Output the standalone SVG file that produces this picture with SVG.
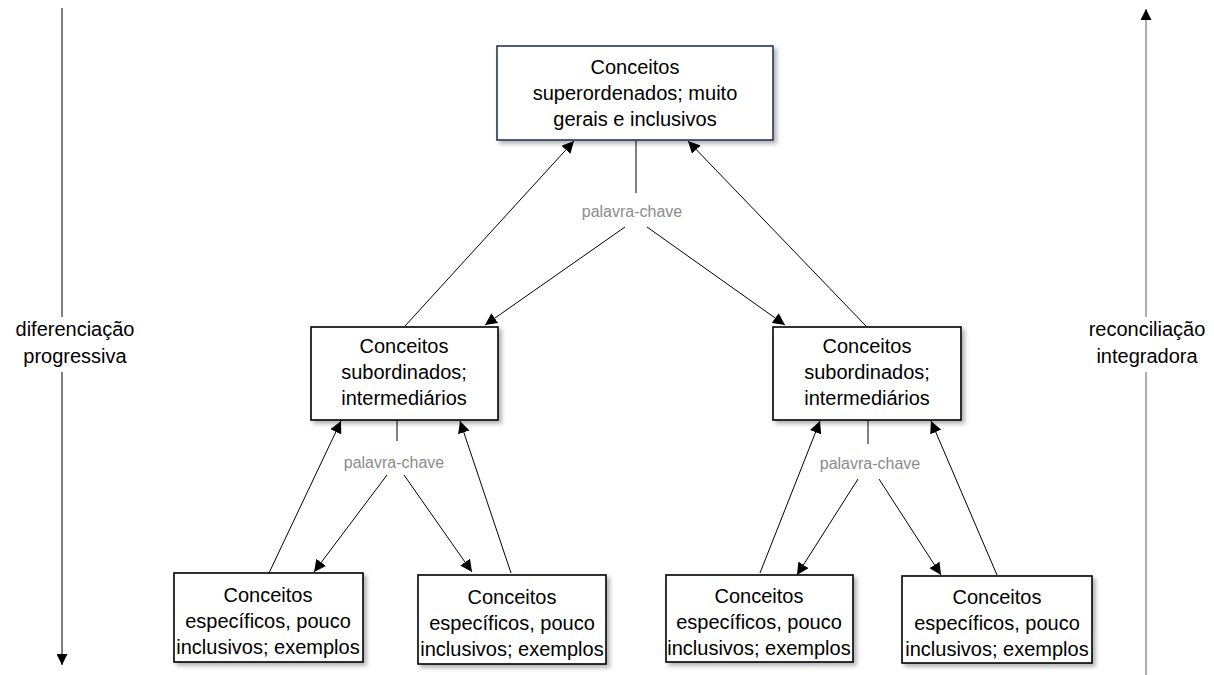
<svg xmlns="http://www.w3.org/2000/svg" width="1214" height="675" viewBox="0 0 1214 675">
<style>
.box{fill:#fff;stroke:#000;stroke-width:1.6;filter:url(#sh)}
.top{stroke:#253858}
.t{font-family:"Liberation Sans",Arial,sans-serif;font-size:20px;fill:#000;text-anchor:middle}
.kw{font-family:"Liberation Sans",Arial,sans-serif;font-size:16px;fill:#8c8c8c;text-anchor:middle}
.c{stroke:#000;stroke-width:1;fill:none}
.a{marker-end:url(#ah)}
.g{stroke:#808080;stroke-width:1.3;fill:none}
</style>
<defs>
<filter id="sh" x="-10%" y="-10%" width="125%" height="130%">
<feDropShadow dx="3" dy="3" stdDeviation="2" flood-color="#000" flood-opacity="0.3"/>
</filter>
<marker id="ah" viewBox="0 0 10 10" refX="10" refY="5" markerWidth="12" markerHeight="12" markerUnits="userSpaceOnUse" orient="auto">
<path d="M0,0 L10,5 L0,10 Z" fill="#000"/>
</marker>
<marker id="ahg" viewBox="0 0 10 10" refX="10" refY="5" markerWidth="11" markerHeight="11" markerUnits="userSpaceOnUse" orient="auto">
<path d="M0,0 L10,5 L0,10 Z" fill="#000"/>
</marker>
</defs>
<rect width="1214" height="675" fill="#fff"/>

<g id="connectors">
<line class="c" x1="636" y1="140" x2="636" y2="193"/>
<line class="c a" x1="405" y1="326" x2="574" y2="141"/>
<line class="c a" x1="866" y1="326" x2="688" y2="141"/>
<line class="c a" x1="625" y1="227" x2="485" y2="325"/>
<line class="c a" x1="647" y1="227" x2="785" y2="325"/>

<line class="c" x1="397" y1="420" x2="397" y2="441"/>
<line class="c a" x1="269" y1="573" x2="341" y2="421"/>
<line class="c a" x1="511" y1="573" x2="460" y2="421"/>
<line class="c a" x1="387" y1="475" x2="314" y2="572"/>
<line class="c a" x1="404" y1="475" x2="472" y2="572"/>

<line class="c" x1="868" y1="420" x2="868" y2="444"/>
<line class="c a" x1="760" y1="573" x2="820" y2="421"/>
<line class="c a" x1="997" y1="575" x2="931" y2="421"/>
<line class="c a" x1="858" y1="479" x2="797" y2="575"/>
<line class="c a" x1="879" y1="479" x2="941" y2="575"/>

<line class="c" x1="62" y1="8" x2="62" y2="317"/>
<line class="c" x1="62" y1="372" x2="62" y2="665" marker-end="url(#ahg)"/>
<line class="g" x1="1146" y1="317" x2="1146" y2="9" marker-end="url(#ahg)"/>
<line class="g" x1="1146" y1="372" x2="1146" y2="675"/>

<text class="kw" x="632" y="217">palavra-chave</text>
<text class="kw" x="394" y="468">palavra-chave</text>
<text class="kw" x="870" y="469">palavra-chave</text>
</g>

<g id="side-left">
<text class="t" x="75" y="336">diferenciação</text>
<text class="t" x="75" y="363">progressiva</text>
</g>
<g id="side-right">
<text class="t" x="1147" y="336">reconciliação</text>
<text class="t" x="1147" y="363">integradora</text>
</g>

<g id="n-top">
<rect class="box top" x="497" y="46" width="276" height="94"/>
<text class="t" x="635" y="74">Conceitos</text>
<text class="t" x="635" y="100">superordenados; muito</text>
<text class="t" x="635" y="126">gerais e inclusivos</text>
</g>

<g id="n-mid-left">
<rect class="box" x="311" y="327" width="187" height="93"/>
<text class="t" x="404" y="353">Conceitos</text>
<text class="t" x="404" y="379">subordinados;</text>
<text class="t" x="404" y="405">intermediários</text>
</g>

<g id="n-mid-right">
<rect class="box" x="773" y="327" width="188" height="93"/>
<text class="t" x="867" y="353">Conceitos</text>
<text class="t" x="867" y="379">subordinados;</text>
<text class="t" x="867" y="405">intermediários</text>
</g>

<g id="n-b1">
<rect class="box" x="174" y="573" width="189" height="89"/>
<text class="t" x="268" y="602">Conceitos</text>
<text class="t" x="268" y="628">específicos, pouco</text>
<text class="t" x="268" y="654">inclusivos; exemplos</text>
</g>

<g id="n-b2">
<rect class="box" x="418" y="575" width="188" height="89"/>
<text class="t" x="512" y="604">Conceitos</text>
<text class="t" x="512" y="630">específicos, pouco</text>
<text class="t" x="512" y="656">inclusivos; exemplos</text>
</g>

<g id="n-b3">
<rect class="box" x="666" y="575" width="187" height="87"/>
<text class="t" x="759" y="603">Conceitos</text>
<text class="t" x="759" y="629">específicos, pouco</text>
<text class="t" x="759" y="655">inclusivos; exemplos</text>
</g>

<g id="n-b4">
<rect class="box" x="902" y="576" width="190" height="87"/>
<text class="t" x="997" y="604">Conceitos</text>
<text class="t" x="997" y="630">específicos, pouco</text>
<text class="t" x="997" y="656">inclusivos; exemplos</text>
</g>
</svg>
